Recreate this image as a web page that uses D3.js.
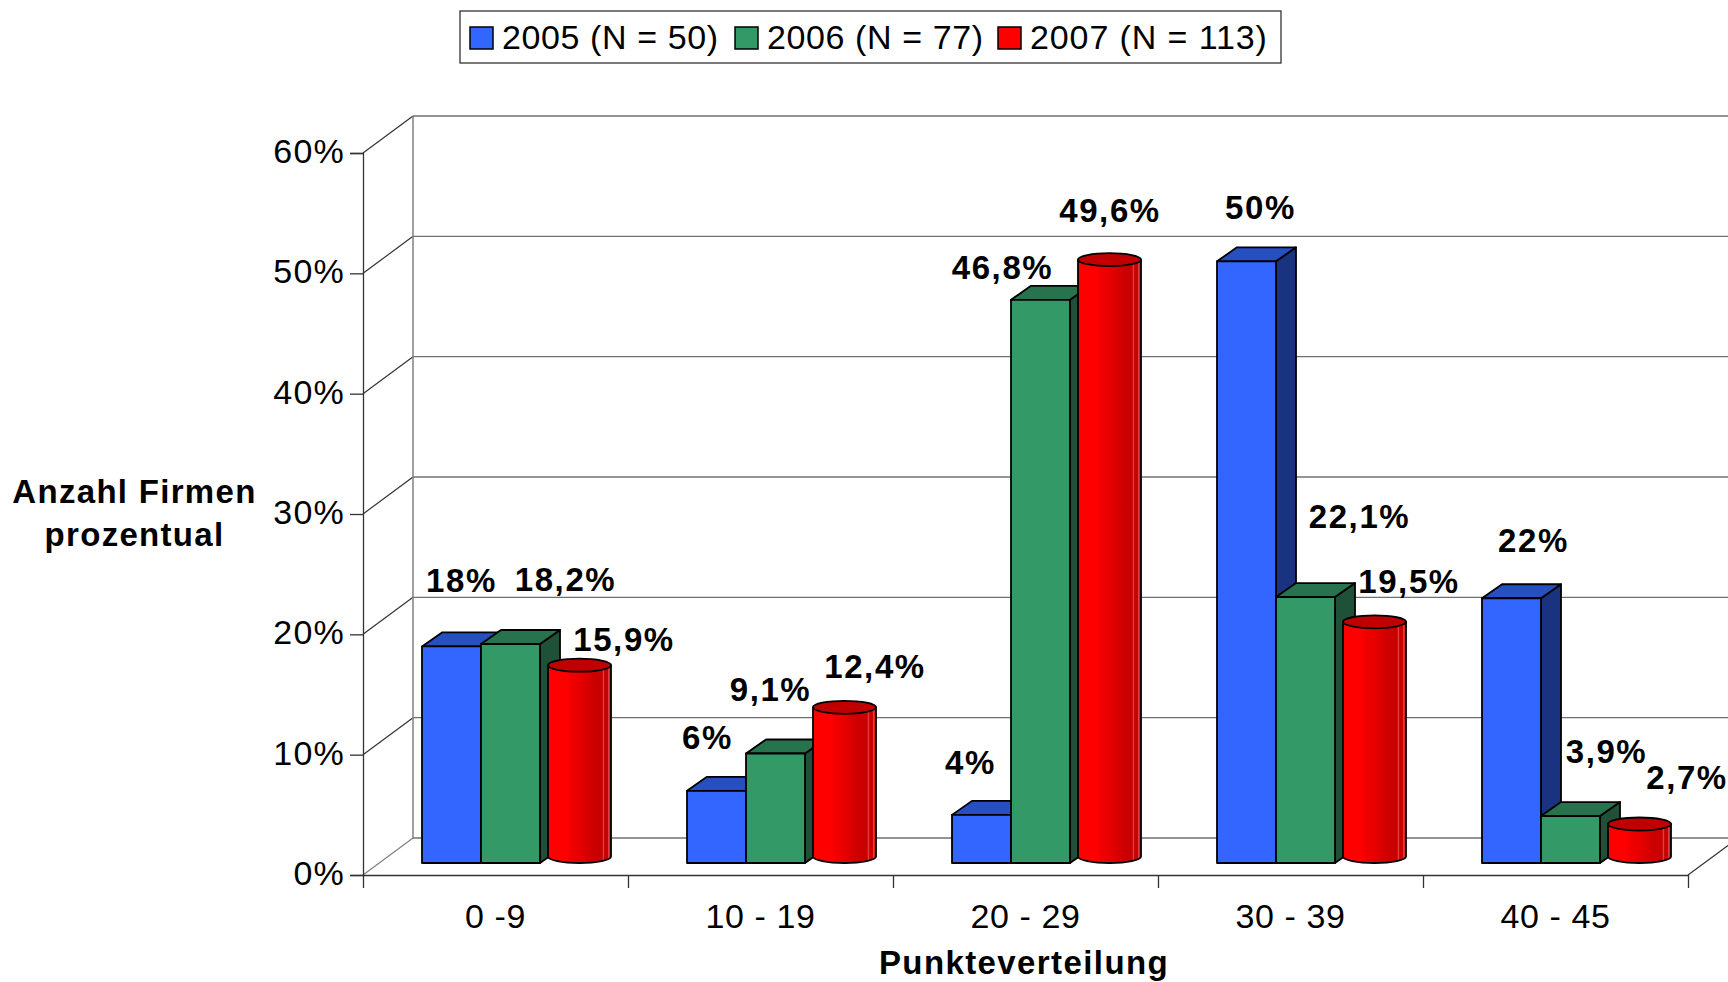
<!DOCTYPE html>
<html><head><meta charset="utf-8">
<script src="https://cdn.jsdelivr.net/npm/d3@7"></script>
<style>html,body{margin:0;padding:0;background:#fff;overflow:hidden}svg{display:block}text{font-family:"Liberation Sans",Arial,sans-serif;fill:#000}</style>
</head><body><div id="c"></div>
<script>
const categories = ["0 -9","10 - 19","20 - 29","30 - 39","40 - 45"];
const seriesNames = ["2005 (N = 50)","2006 (N = 77)","2007 (N = 113)"];
const values2005 = [18,6,4,50,22];
const values2006 = [18.2,9.1,46.8,22.1,3.9];
const values2007 = [15.9,12.4,49.6,19.5,2.7];
const labels2005 = ["18%","6%","4%","50%","22%"];
const labels2006 = ["18,2%","9,1%","46,8%","22,1%","3,9%"];
const labels2007 = ["15,9%","12,4%","49,6%","19,5%","2,7%"];
const yTicks = [0,10,20,30,40,50,60];
const labelShift = [
  [[9,-65],[-10,-53],[-12,-52],[13,-53],[21,-57]],
  [[54,-64],[-6,-63],[-39,-32],[53,-80],[35,-64]],
  [[44,-32],[30,-47],[0,-55],[34,-46],[47,-53]]
];

const W=1728,H=982,fmt=d=>d+"%";
const svg=d3.select("#c").append("svg").attr("width",W).attr("height",H);
const x=d3.scaleBand().domain(categories).range([363,1688]);
const y=d3.scaleLinear().domain([0,60]).range([875,153]);
const DX=50,DY=37,barBase=12,barDX=59,cylW=63,sideX=20,sideY=14;
const txt=(g,s,px,py,size,bold,ls=0,anchor="middle")=>g.append("text").text(s)
  .attr("x",px).attr("y",py).attr("text-anchor",anchor).attr("letter-spacing",ls)
  .attr("font-size",size).attr("font-weight",bold?"bold":"normal");

const defs=svg.append("defs");
const grad=defs.append("linearGradient").attr("id","cyl");
[[0,"#ff0000"],[.3,"#ff0000"],[.36,"#f00000"],[.5,"#e80000"],[.6,"#dc0000"],[.72,"#cc0000"],[.86,"#c80000"],[.88,"#e04040"],[.9,"#c60000"],[.95,"#cc0000"],[.96,"#e04040"],[1,"#c00000"]]
  .forEach(d=>grad.append("stop").attr("offset",d[0]).attr("stop-color",d[1]));

// walls
const wall=svg.append("g");
const x0=x.range()[0],x1=x.range()[1];
wall.selectAll("line.grid").data(yTicks).join("line").attr("class","grid")
  .attr("x1",x0+DX).attr("x2",W).attr("y1",d=>y(d)-DY).attr("y2",d=>y(d)-DY)
  .attr("stroke","#707070").attr("stroke-width",1.3);
wall.selectAll("line.diag").data(yTicks).join("line").attr("class","diag")
  .attr("x1",x0).attr("x2",x0+DX).attr("y1",d=>y(d)).attr("y2",d=>y(d)-DY)
  .attr("stroke",d=>d===0?"#808080":"#333").attr("stroke-width",1.2);
wall.append("line").attr("x1",x0+DX).attr("x2",x0+DX).attr("y1",y(0)-DY).attr("y2",y(60)-DY).attr("stroke","#808080").attr("stroke-width",1.5);
wall.append("line").attr("x1",x1).attr("x2",x1+DX).attr("y1",y(0)).attr("y2",y(0)-DY).attr("stroke","#333").attr("stroke-width",1.2);

// axes
const axL=svg.append("g").attr("transform",`translate(${x0},0)`).call(d3.axisLeft(y).tickValues(yTicks).tickFormat("").tickSize(13));
axL.selectAll("path,line").attr("stroke","#333").attr("stroke-width",1.3);
const edges=d3.scaleLinear().domain([0,categories.length]).range(x.range());
const axB=svg.append("g").attr("transform",`translate(0,${y(0)})`).call(d3.axisBottom(edges).tickValues(d3.range(categories.length+1)).tickFormat("").tickSize(13).tickSizeOuter(0));
axB.selectAll("path,line").attr("stroke","#333").attr("stroke-width",1.3);

const tl=svg.append("g");
yTicks.forEach(t=>txt(tl,fmt(t),345,y(t)+10,34,false,1.2,"end"));
categories.forEach(c=>txt(tl,c,x(c)+x.bandwidth()/2,928,34,false,0.6));
txt(tl,"Punkteverteilung",1024,974,33,true,1.4);
txt(tl,"Anzahl Firmen",134.5,503,33,true,1.3);
txt(tl,"prozentual",134.5,546,33,true,1.3);

// bars
const allVals=[values2005,values2006,values2007];
const allLabels=[labels2005,labels2006,labels2007];
const colors=[{f:"#3366ff",t:"#264fc0",s:"#1a3380"},{f:"#339966",t:"#26734d",s:"#1f5038"}];
const bars=svg.append("g").attr("stroke","#000").attr("stroke-width",1.8).attr("stroke-linejoin","round");
const base=y(0)-barBase;
const hgt=v=>y(0)-y(v);
categories.forEach((c,i)=>{
  const left=x(c)+59;
  [0,1].forEach(s=>{
    const v=allVals[s][i],xl=left+s*barDX,xr=xl+barDX,top=base-hgt(v),k=colors[s];
    bars.append("path").attr("fill",k.s).attr("d",`M${xr},${top}L${xr+sideX},${top-sideY}L${xr+sideX},${base-sideY}L${xr},${base}Z`);
    bars.append("path").attr("fill",k.t).attr("d",`M${xl},${top}L${xl+sideX},${top-sideY}L${xr+sideX},${top-sideY}L${xr},${top}Z`);
    bars.append("rect").attr("fill",k.f).attr("x",xl).attr("y",top).attr("width",barDX).attr("height",base-top);
  });
  const v=values2007[i],xl=left+2*barDX+8,xr=xl+cylW,rx=cylW/2,ry=6.5,cb=base-ry,ct=cb-hgt(v);
  bars.append("path").attr("fill","url(#cyl)").attr("d",`M${xl},${ct}L${xl},${cb}A${rx},${ry} 0 0 0 ${xr},${cb}L${xr},${ct}Z`);
  bars.append("ellipse").attr("fill","#c00000").attr("cx",xl+rx).attr("cy",ct).attr("rx",rx).attr("ry",ry);
});

// data labels
const dl=svg.append("g");
categories.forEach((c,i)=>{
  const left=x(c)+59;
  const centers=[left+barDX/2,left+barDX*1.5,left+2*barDX+7+32];
  [0,1,2].forEach(s=>{
    const top=base-hgt(allVals[s][i]),sh=labelShift[s][i];
    txt(dl,allLabels[s][i],centers[s]+sh[0]+1,top+sh[1]+11,33,true,1.6);
  });
});

// legend
const lg=svg.append("g");
lg.append("rect").attr("x",460).attr("y",11).attr("width",821).attr("height",52).attr("fill","#fff").attr("stroke","#222").attr("stroke-width",1.2);
const swX=[470,735,998],swC=["#3366ff","#339966","#ff0000"],swLs=[0.6,0.6,0.9];
seriesNames.forEach((n,i)=>{
  lg.append("rect").attr("x",swX[i]).attr("y",27).attr("width",23).attr("height",22).attr("fill",swC[i]).attr("stroke","#000").attr("stroke-width",1.5);
  txt(lg,n,swX[i]+32,49,34,false,swLs[i],"start");
});
</script></body></html>
